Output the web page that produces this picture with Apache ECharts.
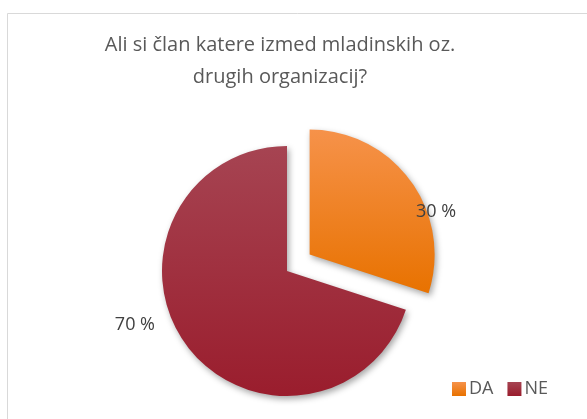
<!DOCTYPE html>
<html>
<head>
<meta charset="utf-8">
<script src="https://cdn.jsdelivr.net/npm/echarts@6/dist/echarts.min.js"></script>
<style>
  html, body {margin: 0; padding: 0; background: #fff;}
  #chart {width: 587px; height: 419px;}
</style>
</head>
<body>
<div id="chart"></div>
<script>
// Membership question — two-slice pie, "DA" slice pulled out.
const TITLE = "Ali si član katere izmed mladinskih oz.\ndrugih organizacij?"
const CATEGORIES = ["DA", "NE"]
const VALUES = [30, 70]

const CENTER = [287, 271]
const RADIUS = 125

const GRADIENTS = [
  ["#f6924a", "#e87200"],
  ["#a64452", "#9a1d2d"],
]

function vGrad([top, bottom]) {
  return new echarts.graphic.LinearGradient(0, 0, 0, 1, [
    {offset: 0, color: top},
    {offset: 1, color: bottom},
  ])
}

const chart = echarts.init(document.getElementById("chart"), null, {renderer: "canvas"})

chart.setOption({
  backgroundColor: "#fff",
  animation: false,
  graphic: [
    {
      type: "rect",
      shape: {x: 7.5, y: 13.5, width: 700, height: 600},
      style: {fill: "none", stroke: "#d9d9d9", lineWidth: 1},
      silent: true,
    },
  ],
  title: {
    text: TITLE,
    left: 275,
    top: 24,
    textAlign: "center",
    textStyle: {
      fontFamily: "Open Sans",
      fontWeight: "normal",
      fontSize: 20,
      lineHeight: 32,
      color: "#595959",
    },
  },
  legend: {
    left: 447,
    top: 375,
    itemWidth: 14,
    itemHeight: 14,
    itemGap: 14,
    icon: "rect",
    textStyle: {fontFamily: "Open Sans", fontSize: 18, color: "#595959", padding: [0, 0, 0, -2]},
    data: CATEGORIES,
  },
  series: [
    {
      type: "pie",
      center: CENTER,
      radius: RADIUS,
      startAngle: 90,
      clockwise: true,
      selectedMode: "single",
      selectedOffset: 28,
      emphasis: {disabled: true},
      label: {
        show: true,
        position: "outside",
        formatter: p => `${p.value} %`,
        fontFamily: "Open Sans",
        fontSize: 18,
        color: "#404040",
      },
      labelLine: {show: false},
      // "DA" label sits just inside its slice, "NE" label out to the left
      labelLayout(params) {
        if (params.dataIndex === 0) return {dx: -42, dy: 40}
        return {x: 155, y: 325, align: "right", verticalAlign: "middle"}
      },
      data: CATEGORIES.map((name, i) => ({
        name,
        value: VALUES[i],
        selected: i === 0,
        itemStyle: {
          color: vGrad(GRADIENTS[i]),
          shadowBlur: 6,
          shadowOffsetX: 2,
          shadowOffsetY: 3,
          shadowColor: "rgba(0,0,0,0.35)",
        },
      })),
    },
  ],
})
</script>
</body>
</html>
